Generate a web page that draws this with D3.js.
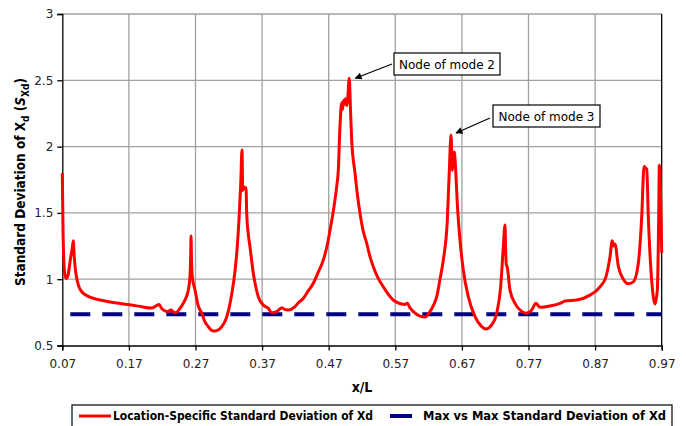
<!DOCTYPE html>
<html><head><meta charset="utf-8">
<script src="https://cdn.jsdelivr.net/npm/d3@7"></script>
<style>
html,body{margin:0;padding:0;background:#fff;}
svg{display:block;}
text{font-family:"DejaVu Sans",sans-serif;}
.cond{font-family:"DejaVu Sans Condensed","DejaVu Sans",sans-serif;}
</style></head>
<body><svg id="c" width="686" height="426"></svg>
<script>
const xTicks=[0.07,0.17,0.27,0.37,0.47,0.57,0.67,0.77,0.87,0.97];
const yTicks=[0.5,1,1.5,2,2.5,3];
const maxVsMax=0.735;
const xs=[0.0700,0.0711,0.0726,0.0745,0.0760,0.0786,0.0816,0.0831,0.0846,0.0865,0.0878,0.0895,0.0916,0.0945,0.0985,0.1040,0.1116,0.1250,0.1400,0.1592,0.1841,0.2042,
0.2107,0.2152,0.2197,0.2242,0.2287,0.2332,0.2362,0.2403,0.2452,0.2517,0.2557,0.2592,0.2617,0.2628,0.2633,0.2640,0.2652,0.2693,0.2738,0.2793,0.2843,0.2892,0.2933,0.2982,0.3038,0.3098,0.3158,0.3203,0.3248,0.3293,0.3323,0.3353,0.3379,0.3398,0.3409,0.3420,0.3443,0.3458,0.3469,0.3489,0.3518,0.3568,0.3609,0.3643,0.3718,0.3793,0.3844,0.3919,0.3994,0.4029,0.4093,0.4194,0.4240,0.4319,0.4390,0.4469,0.4540,0.4619,0.4675,0.4720,0.4765,0.4800,0.4820,0.4844,0.4870,0.4895,0.4907,0.4922,0.4937,0.4952,0.4970,0.4982,0.5009,0.5027,0.5045,0.5095,0.5133,0.5170,0.5215,0.5271,0.5320,0.5370,0.5440,0.5520,0.5590,0.5670,0.5725,0.5796,0.5840,0.5880,0.5921,0.5970,0.6071,0.6146,0.6221,0.6274,0.6322,0.6371,0.6421,0.6481,0.6511,0.6537,0.6556,0.6571,0.6586,0.6607,0.6631,0.6671,0.6721,0.6796,0.6897,0.6997,0.7062,0.7147,0.7222,0.7282,0.7322,0.7347,0.7357,0.7367,0.7377,0.7422,0.7497,0.7573,0.7663,0.7748,0.7813,0.7873,0.8023,0.8173,0.8223,0.8248,0.8424,0.8623,0.8774,0.8864,0.8924,0.8958,0.8976,0.8998,0.9048,0.9124,0.9199,0.9274,0.9349,0.9400,0.9435,0.9457,0.9475,0.9499,0.9535,0.9574,0.9599,0.9634,0.9655,0.9664,0.9685,0.9700];
const sxd=[1.80,1.37,1.107,1.02,1.005,1.03,1.13,1.18,1.22,1.29,1.18,1.08,1.01,0.95,0.91,0.885,0.865,0.845,0.830,0.815,0.797,0.782,
0.798,0.81,0.775,0.762,0.756,0.768,0.755,0.747,0.77,0.818,0.86,0.918,1.02,1.18,1.326,1.15,1.02,0.918,0.805,0.743,0.677,0.642,0.617,0.609,0.617,0.645,0.70,0.78,0.90,1.06,1.22,1.45,1.72,1.974,1.67,1.70,1.686,1.69,1.497,1.356,1.245,1.045,0.934,0.868,0.805,0.78,0.747,0.755,0.785,0.775,0.768,0.793,0.82,0.856,0.91,0.969,1.05,1.145,1.25,1.37,1.50,1.62,1.698,1.82,2.16,2.33,2.28,2.35,2.32,2.36,2.31,2.34,2.515,2.28,2.05,1.80,1.63,1.497,1.37,1.27,1.17,1.094,1.01,0.943,0.89,0.843,0.825,0.813,0.81,0.818,0.783,0.755,0.722,0.715,0.755,0.805,0.868,1.00,1.145,1.446,1.82,2.087,1.82,1.914,1.96,1.82,1.572,1.296,1.069,0.868,0.717,0.642,0.624,0.655,0.743,0.943,1.245,1.409,1.22,1.107,1.10,0.918,0.818,0.768,0.743,0.768,0.818,0.788,0.798,0.818,0.83,0.836,0.843,0.88,0.943,1.02,1.17,1.29,1.25,1.265,1.10,1.00,0.966,0.98,1.12,1.47,1.85,1.84,1.83,1.47,1.094,0.868,0.813,0.918,1.47,1.86,1.6,1.2];
const seriesNames=["Location-Specific Standard Deviation of Xd","Max vs Max Standard Deviation of Xd"];
const notes=[{text:"Node of mode 2",x:0.5009,y:2.515},{text:"Node of mode 3",x:0.6537,y:2.087}];

const svg=d3.select("#c");
const L=62.3,R=661.7,T=14,B=345.5;
const x=d3.scaleLinear().domain([0.07,0.97]).range([L,R]);
const y=d3.scaleLinear().domain([0.5,3]).range([B,T]);

// grid
svg.append("g").selectAll("line").data(yTicks.slice(1)).join("line")
 .attr("x1",L).attr("x2",R).attr("y1",d=>y(d)).attr("y2",d=>y(d))
 .attr("stroke","#a0a0a0").attr("stroke-width",1.3);
svg.append("g").selectAll("line").data(xTicks.slice(1,-1)).join("line")
 .attr("y1",T).attr("y2",B).attr("x1",d=>x(d)).attr("x2",d=>x(d))
 .attr("stroke","#a0a0a0").attr("stroke-width",1.3);
svg.append("line").attr("x1",R).attr("x2",R).attr("y1",T).attr("y2",B).attr("stroke","#000").attr("stroke-width",1.3);

// axes
const ya=svg.append("g").attr("transform",`translate(${L},0)`)
 .call(d3.axisLeft(y).tickValues(yTicks).tickFormat(d3.format("~g")).tickSize(5).tickPadding(4));
const xa=svg.append("g").attr("transform",`translate(0,${B})`)
 .call(d3.axisBottom(x).tickValues(xTicks).tickFormat(d3.format(".2f")).tickSize(5).tickPadding(9));
[ya,xa].forEach(g=>{g.selectAll("path,line").attr("stroke","#000").attr("stroke-width",1.3);
 g.selectAll("text").attr("font-size",12).attr("fill","#222").attr("font-family","DejaVu Sans, sans-serif");});

// dashed reference
svg.append("line").attr("x1",x(0.07)).attr("x2",x(0.97)).attr("y1",y(maxVsMax)).attr("y2",y(maxVsMax))
 .attr("stroke","#000080").attr("stroke-width",4).attr("stroke-dasharray","20,12").attr("stroke-dashoffset",-8);

// red curve
const pts=xs.map((d,i)=>[d,sxd[i]]);
svg.append("path").datum(pts).attr("fill","none").attr("stroke","#ff0000").attr("stroke-width",3)
 .attr("stroke-linejoin","round")
 .attr("d",d3.line().curve(d3.curveMonotoneX).x(d=>x(d[0])).y(d=>y(d[1])));

// annotations
const defs=svg.append("defs");
defs.append("marker").attr("id","ah").attr("viewBox","0 0 10 10").attr("refX",9).attr("refY",5)
 .attr("markerWidth",9).attr("markerHeight",7).attr("markerUnits","userSpaceOnUse").attr("orient","auto")
 .append("path").attr("d","M0,0L10,5L0,10z").attr("fill","#000");
const boxes=[{bx:394,by:53,w:106,h:22,ax1:392,ay1:64,ax2:x(notes[0].x)+6,ay2:y(notes[0].y)},
             {bx:493,by:105,w:107,h:22,ax1:490,ay1:118,ax2:x(notes[1].x)+5,ay2:y(notes[1].y)-2}];
notes.forEach((n,i)=>{const b=boxes[i];
 svg.append("line").attr("x1",b.ax1).attr("y1",b.ay1).attr("x2",b.ax2).attr("y2",b.ay2)
  .attr("stroke","#000").attr("stroke-width",1.2).attr("marker-end","url(#ah)");
 svg.append("rect").attr("x",b.bx).attr("y",b.by).attr("width",b.w).attr("height",b.h)
  .attr("fill","#fff").attr("stroke","#000").attr("stroke-width",1.2);
 svg.append("text").attr("x",b.bx+b.w/2).attr("y",b.by+b.h/2+4.5).attr("text-anchor","middle")
  .attr("font-size",12).attr("fill","#000").text(n.text);
});

// axis titles
svg.append("text").attr("class","cond").attr("x",(L+R)/2).attr("y",392).attr("text-anchor","middle")
 .attr("font-size",14).attr("font-weight","bold").text("x/L");
const yt=svg.append("text").attr("class","cond").attr("transform","translate(25,182) rotate(-90)")
 .attr("text-anchor","middle").attr("font-size",13.5).attr("font-weight","bold");
yt.append("tspan").text("Standard Deviation of X");
yt.append("tspan").attr("dy",4).attr("font-size",10).text("d");
yt.append("tspan").attr("dy",-4).text(" (");
yt.append("tspan").attr("font-style","italic").text("S");
yt.append("tspan").attr("dy",4).attr("font-size",10).text("Xd");
yt.append("tspan").attr("dy",-4).text(")");

// legend
const lg=svg.append("g");
lg.append("rect").attr("x",72).attr("y",405).attr("width",600).attr("height",30)
 .attr("fill","#fff").attr("stroke","#000").attr("stroke-width",1.2);
lg.append("line").attr("x1",79).attr("x2",111).attr("y1",416).attr("y2",416).attr("stroke","#ff0000").attr("stroke-width",3);
lg.append("text").attr("class","cond").attr("x",113).attr("y",420).attr("font-size",11.5).attr("font-weight","bold")
 .attr("textLength",260).attr("lengthAdjust","spacingAndGlyphs").text(seriesNames[0]);
lg.append("line").attr("x1",390).attr("x2",412).attr("y1",416).attr("y2",416).attr("stroke","#000080").attr("stroke-width",4);
lg.append("text").attr("class","cond").attr("x",423).attr("y",420).attr("font-size",11.5).attr("font-weight","bold")
 .attr("textLength",243).attr("lengthAdjust","spacingAndGlyphs").text(seriesNames[1]);
</script></body></html>
